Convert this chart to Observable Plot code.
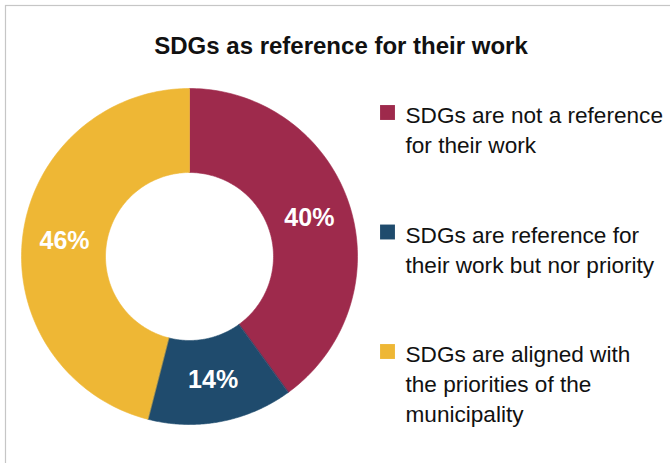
<!DOCTYPE html>
<html>
<head>
<meta charset="utf-8">
<script src="https://cdn.jsdelivr.net/npm/d3@7"></script>
<script src="https://cdn.jsdelivr.net/npm/@observablehq/plot@0.6"></script>
<style>
  html, body { margin: 0; padding: 0; background: #fff; }
</style>
</head>
<body>
<div id="chart"></div>
<script>
// ---- data ----
const title = "SDGs as reference for their work";
const categories = ["not a reference", "reference but not priority", "aligned with priorities"];
const shares = [40, 14, 46];
const legendLabels = [
  "SDGs are not a reference\nfor their work",
  "SDGs are reference for\ntheir work but nor priority",
  "SDGs are aligned with\nthe priorities of the\nmunicipality"
];
const palette = ["#9E2A4C", "#1F4B6D", "#EEB735"];

// ---- layout ----
const W = 670, H = 463;
const cx = 189, cy = 256, R = 168, R0 = 84, Rlabel = 126;
const font = "'Liberation Sans', Arial, sans-serif";
const legendX = 405, squareX = 387, legendTop = 106, legendStep = 119.5, legendFont = 22.6, legendLH = 30 / 22.6;

const rows = categories.map((c, i) => ({key: c, share: shares[i], label: shares[i] + "%", legend: legendLabels[i], i}));
const arcs = d3.pie().sort(null).value(d => d.share)(rows);

const N = 120;
const pts = [];
arcs.forEach(a => {
  const key = a.data.key;
  for (let k = 0; k <= N; k++) {
    const t = a.startAngle + (a.endAngle - a.startAngle) * k / N;
    pts.push({key, x: cx + R * Math.sin(t), y: cy - R * Math.cos(t)});
  }
  for (let k = N; k >= 0; k--) {
    const t = a.startAngle + (a.endAngle - a.startAngle) * k / N;
    pts.push({key, x: cx + R0 * Math.sin(t), y: cy - R0 * Math.cos(t)});
  }
});
const centroids = arcs.map(a => {
  const m = (a.startAngle + a.endAngle) / 2;
  return {label: a.data.label, x: cx + Rlabel * Math.sin(m), y: cy - Rlabel * Math.cos(m)};
});
const legendRows = rows.map(d => ({...d, top: legendTop + d.i * legendStep}));

const chart = Plot.plot({
  width: W, height: H, margin: 0,
  style: {background: "#fff", fontFamily: font},
  x: {domain: [0, W], range: [0, W], axis: null},
  y: {domain: [0, H], range: [0, H], axis: null},
  color: {domain: categories, range: palette},
  marks: [
    Plot.frame({stroke: "#c6c6c6", strokeWidth: 1.2, insetLeft: 5, insetTop: 5, insetRight: -10, insetBottom: -10}),
    Plot.line(pts, {x: "x", y: "y", z: "key", fill: "key", stroke: "key", strokeWidth: 0.6, curve: "linear-closed"}),
    Plot.text(centroids, {x: "x", y: "y", text: "label", fill: "white", fontSize: 25, fontWeight: "bold",
      fontFamily: "'Liberation Sans Narrow', 'Liberation Sans', Arial, sans-serif", lineHeight: 1}),
    Plot.text([title], {x: () => 340.5, y: () => 53, text: d => d, lineAnchor: "bottom", fontSize: 24, fontWeight: "bold", fill: "#111"}),
    Plot.dot(legendRows, {x: () => squareX, y: d => d.top + 6, fill: "key", symbol: "square", r: 8.4, stroke: null}),
    Plot.text(legendRows, {x: () => legendX, y: d => d.top - 4.5, text: "legend", textAnchor: "start", lineAnchor: "top",
      fontSize: legendFont, lineHeight: legendLH, fill: "#111"})
  ]
});
document.getElementById("chart").appendChild(chart);
</script>
</body>
</html>
